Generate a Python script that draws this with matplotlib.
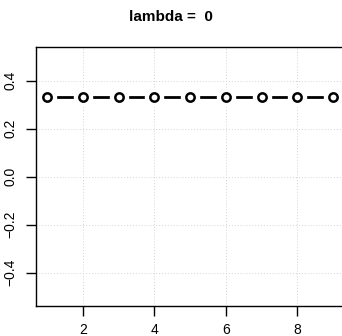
import matplotlib
matplotlib.use("Agg")
import matplotlib.pyplot as plt

# data
x_vals = [1, 2, 3, 4, 5, 6, 7, 8, 9]
y_vals = [0.333, 0.333, 0.333, 0.333, 0.333, 0.333, 0.333, 0.333, 0.333]
x_ticks = [2, 4, 6, 8]
y_ticks = [-0.4, -0.2, 0.0, 0.2, 0.4]
title = "lambda =  0"

plt.rcParams["font.family"] = ["Liberation Sans", "DejaVu Sans"]

fig = plt.figure(figsize=(3.42, 3.36), dpi=100)
ax = fig.add_axes([0.105, 0.089, 0.902, 0.771])

ax.set_xlim(0.68, 9.32)
ax.set_ylim(-0.54, 0.54)

# grid
for xv in x_ticks:
    ax.axvline(xv, color="#d3d3d3", lw=0.7, ls=(0, (1, 2)), zorder=0)
for yv in y_ticks:
    ax.axhline(yv, color="#d3d3d3", lw=0.7, ls=(0, (1, 2)), zorder=0)

# type = "b": lines with gaps around the points
ax.plot(x_vals, y_vals, color="black", lw=2, zorder=2)
ax.plot(x_vals, y_vals, ls="none", marker="o", ms=14, mfc="white", mec="none", zorder=3)
ax.plot(x_vals, y_vals, ls="none", marker="o", ms=6, mfc="white", mec="black", mew=1.8, zorder=4)

ax.set_xticks(x_ticks)
ax.set_xticklabels([str(v) for v in x_ticks])
ax.set_yticks(y_ticks)
ax.set_yticklabels([f"{v:.1f}".replace("-", "\u2212") for v in y_ticks], rotation=90, va="center")
ax.tick_params(direction="out", length=7, width=1, labelsize=10)
ax.tick_params(axis="x", pad=5.5)
ax.tick_params(axis="y", pad=6)

for s in ax.spines.values():
    s.set_linewidth(1)

fig.text(0.5, 0.948, title, ha="center", va="center", fontsize=11, fontweight="bold")

fig.savefig("out.png", dpi=100)
